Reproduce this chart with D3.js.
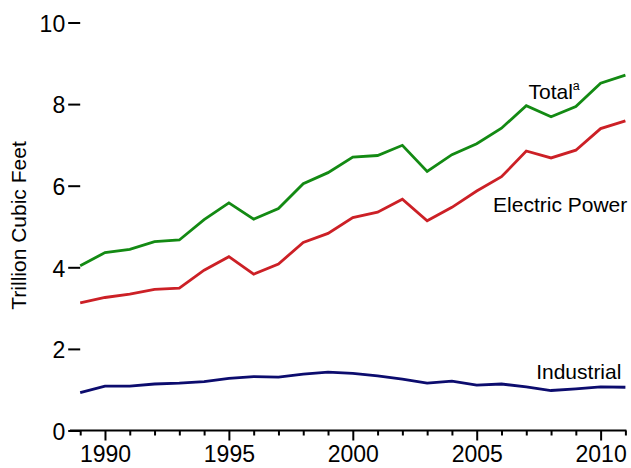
<!DOCTYPE html>
<html>
<head>
<meta charset="utf-8">
<script src="https://cdn.jsdelivr.net/npm/d3@7"></script>
<style>
  html, body { margin: 0; padding: 0; background: #fff; }
  svg { display: block; }
  text { font-family: "Liberation Sans", Arial, Helvetica, sans-serif; fill: #000; }
</style>
</head>
<body>
<svg id="chart" width="631" height="468"></svg>
<script>
const years = [1989,1990,1991,1992,1993,1994,1995,1996,1997,1998,1999,2000,2001,2002,2003,2004,2005,2006,2007,2008,2009,2010,2011];
const total = [4.04,4.36,4.44,4.63,4.67,5.17,5.58,5.18,5.44,6.05,6.32,6.70,6.74,6.99,6.35,6.76,7.03,7.41,7.96,7.69,7.94,8.51,8.71];
const electricPower = [3.13,3.26,3.34,3.46,3.49,3.93,4.26,3.83,4.08,4.61,4.83,5.22,5.35,5.67,5.14,5.47,5.87,6.22,6.85,6.68,6.87,7.40,7.59];
const industrial = [0.93,1.09,1.09,1.14,1.16,1.20,1.28,1.32,1.31,1.38,1.43,1.40,1.34,1.26,1.16,1.21,1.11,1.14,1.07,0.98,1.02,1.07,1.06];
const yTicks = [0,2,4,6,8,10];
const xMajorTicks = [1990,1995,2000,2005,2010];
const yTitle = "Trillion Cubic Feet";

const svg = d3.select("#chart");
const x = d3.scaleLinear().domain([1989, 2011]).range([80.2, 625.4]);
const y = d3.scaleLinear().domain([0, 10]).range([430.5, 22.5]);

// x axis baseline
svg.append("line")
  .attr("x1", 70).attr("x2", x(2011) + 1)
  .attr("y1", y(0)).attr("y2", y(0))
  .attr("stroke", "#000").attr("stroke-width", 2);

// minor x ticks
const minorAxis = d3.axisBottom(x).tickValues(years.filter(v => !xMajorTicks.includes(v)))
  .tickSize(5).tickFormat("");
const gMinor = svg.append("g").attr("transform", `translate(0,${y(0)})`).call(minorAxis);
gMinor.select(".domain").remove();
gMinor.selectAll("line").attr("stroke", "#000").attr("stroke-width", 2);

// major x ticks
const majorAxis = d3.axisBottom(x).tickValues(xMajorTicks).tickSize(10).tickPadding(6)
  .tickFormat(d3.format("d"));
const gMajor = svg.append("g").attr("transform", `translate(0,${y(0)})`).call(majorAxis);
gMajor.select(".domain").remove();
gMajor.selectAll("line").attr("stroke", "#000").attr("stroke-width", 2);
gMajor.selectAll("text").attr("font-size", 23).attr("fill", "#000")
  .attr("font-family", "'Liberation Sans', Arial, sans-serif").attr("dy", "0.68em");

// y axis
const yAxis = d3.axisLeft(y).tickValues(yTicks).tickSize(12).tickPadding(3).tickFormat(d3.format("d"));
const gY = svg.append("g").attr("transform", `translate(${x(1989)},0)`).call(yAxis);
gY.select(".domain").remove();
gY.selectAll("line").attr("stroke", "#000").attr("stroke-width", 2);
gY.selectAll("text").attr("font-size", 23).attr("fill", "#000")
  .attr("font-family", "'Liberation Sans', Arial, sans-serif").attr("dy", "0.38em");

// y title
svg.append("text")
  .attr("transform", `translate(25.5,${y(5) - 1}) rotate(-90)`)
  .attr("text-anchor", "middle")
  .attr("font-size", 21)
  .text(yTitle);

// lines
const series = [
  { name: "Total", values: total, color: "#138a13" },
  { name: "Electric Power", values: electricPower, color: "#cc2026" },
  { name: "Industrial", values: industrial, color: "#0c0c6e" }
];
const line = d3.line().x((d, i) => x(years[i])).y(d => y(d));
svg.append("g").selectAll("path").data(series).join("path")
  .attr("d", s => line(s.values))
  .attr("fill", "none")
  .attr("stroke", s => s.color)
  .attr("stroke-width", 2.8)
  .attr("stroke-linejoin", "miter");

// labels
const tl = svg.append("text").attr("x", x(2007.09)).attr("y", y(8.12)).attr("font-size", 21);
tl.append("tspan").text("Total");
tl.append("tspan").attr("font-size", 12.5).attr("dy", -9).text("a");

svg.append("text").attr("x", x(2005.66)).attr("y", y(5.36)).attr("font-size", 21).text("Electric Power");
svg.append("text").attr("x", x(2007.4)).attr("y", y(1.27)).attr("font-size", 21).text("Industrial");
</script>
</body>
</html>
